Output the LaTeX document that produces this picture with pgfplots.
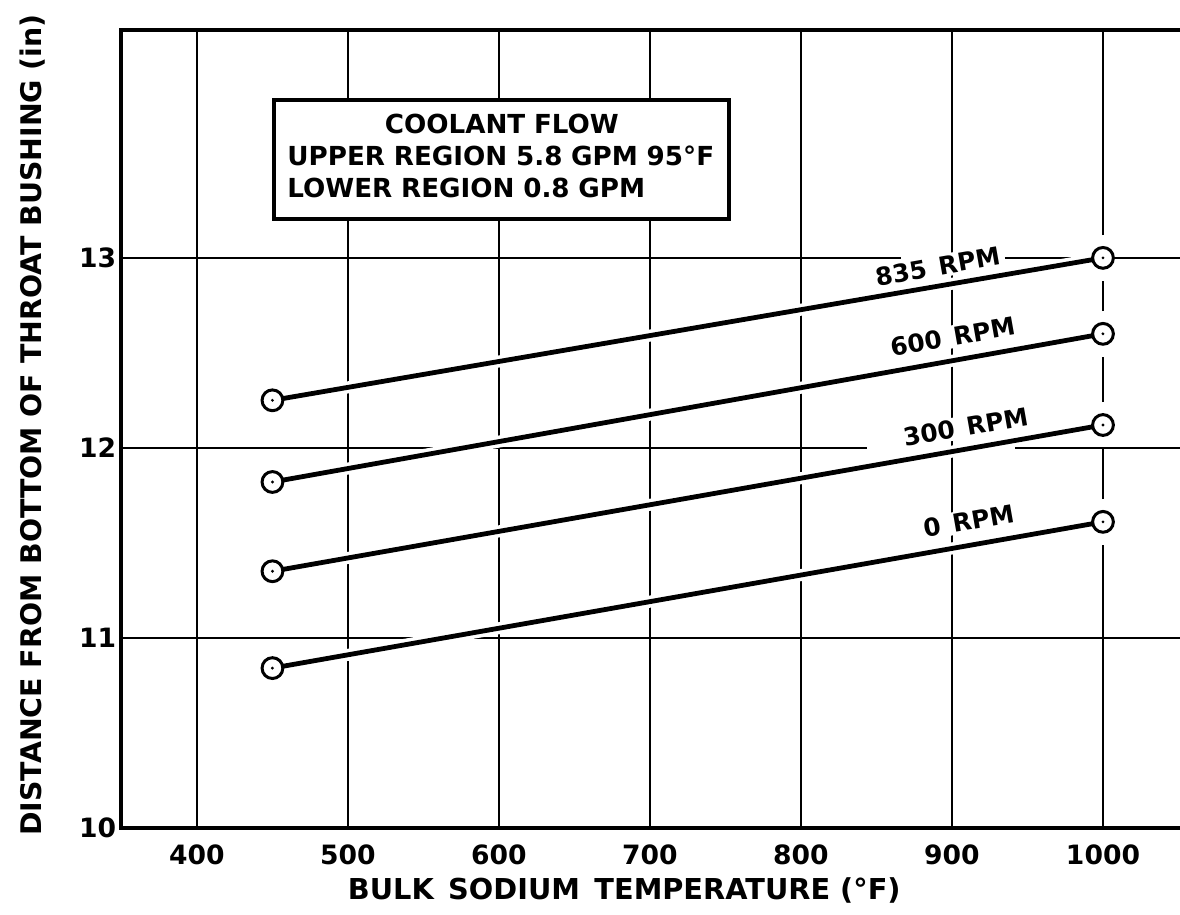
\documentclass[border=0pt]{standalone}
\usepackage{pgfplots}
\pgfplotsset{compat=1.18}
\usepackage{fontspec}
\setmainfont{DejaVu Sans}
\usetikzlibrary{calc}

\pgfdeclareplotmark{dotcirc}{%
  \pgfpathcircle{\pgfpointorigin}{\pgfplotmarksize}%
  \pgfusepathqfillstroke
  \begin{pgfscope}%
    \pgfsetfillcolor{black}%
    \pgfpathcircle{\pgfpointorigin}{0.8pt}%
    \pgfusepathqfill
  \end{pgfscope}}

\pgfplotsset{
  gridline/.style={black, line width=1.2pt, no marks, forget plot},
  halo/.style={draw=white, line width=6pt, no marks, forget plot},
  curve/.style={black, line width=2.4pt, mark=dotcirc, mark size=5.2pt, mark options={fill=white, line width=1.5pt}},
}
\tikzset{rpmlabel/.style={rotate=10, fill=white, inner sep=1pt, font=\bfseries\fontsize{12.4}{12.4}\selectfont}}

\begin{document}
\begin{tikzpicture}
\begin{axis}[
  scale only axis, width=529.5pt, height=399pt,
  xmin=350, xmax=1051, ymin=10, ymax=14.2,
  xtick={400,500,...,1000}, ytick={10,11,12,13},
  major tick length=0pt,
  axis line style={draw=none},
  /pgf/number format/assume math mode=true,
  /pgf/number format/1000 sep={},
  xticklabel style={font=\bfseries\fontsize{13.3}{13.3}\selectfont, anchor=north, inner sep=0pt, yshift=-8.5pt},
  yticklabel style={font=\bfseries\fontsize{13.3}{13.3}\selectfont, anchor=east, inner sep=0pt, xshift=-2.5pt},
  xlabel={BULK\hspace{0.5em}SODIUM\hspace{0.5em}TEMPERATURE (°F)},
  xlabel style={at={(rel axis cs:0.475,0)}, anchor=north, inner sep=0pt, yshift=-25pt, font=\bfseries\fontsize{14.4}{14.4}\selectfont},
  ylabel={DISTANCE FROM BOTTOM OF THROAT BUSHING (in)},
  ylabel style={at={($(rel axis cs:0,0.505)+(-40pt,0pt)$)}, anchor=base, inner sep=0pt, font=\bfseries\fontsize{14.2}{14.2}\selectfont},
  clip=false,
]
% grid lines (drawn as plots so that the curves' white halos break them)
\addplot[gridline] coordinates {(400,10) (400,14.2)};
\addplot[gridline] coordinates {(500,10) (500,14.2)};
\addplot[gridline] coordinates {(600,10) (600,14.2)};
\addplot[gridline] coordinates {(700,10) (700,14.2)};
\addplot[gridline] coordinates {(800,10) (800,14.2)};
\addplot[gridline] coordinates {(900,10) (900,14.2)};
\addplot[gridline] coordinates {(1000,13.12) (1000,14.2)};
\addplot[gridline] coordinates {(1000,12.72) (1000,12.88)};
\addplot[gridline] coordinates {(1000,12.24) (1000,12.48)};
\addplot[gridline] coordinates {(1000,11.73) (1000,12.00)};
\addplot[gridline] coordinates {(1000,10) (1000,11.49)};
\addplot[gridline] coordinates {(350,11) (1051,11)};
\addplot[gridline] coordinates {(350,12) (844,12)};
\addplot[gridline] coordinates {(942,12) (1051,12)};
\addplot[gridline] coordinates {(350,13) (866,13)};
\addplot[gridline] coordinates {(935,13) (1051,13)};
% white halos
\addplot[halo] coordinates {(450,12.25) (1000,13.00)};
\addplot[halo] coordinates {(450,11.82) (1000,12.60)};
\addplot[halo] coordinates {(450,11.35) (1000,12.12)};
\addplot[halo] coordinates {(450,10.84) (1000,11.61)};
% curves
\addplot[curve] coordinates {(450,12.25) (1000,13.00)};
\addplot[curve] coordinates {(450,11.82) (1000,12.60)};
\addplot[curve] coordinates {(450,11.35) (1000,12.12)};
\addplot[curve] coordinates {(450,10.84) (1000,11.61)};
% curve labels
\node[rpmlabel] at (axis cs:890.7,12.955) {835\hspace{0.5em}RPM};
\node[rpmlabel] at (axis cs:900.7,12.585) {600\hspace{0.5em}RPM};
\node[rpmlabel] at (axis cs:909.3,12.11) {300\hspace{0.5em}RPM};
\node[rpmlabel] at (axis cs:911.3,11.615) {0\hspace{0.5em}RPM};
% annotation box
\node[draw, line width=2pt, fill=white, anchor=north west, minimum width=227.5pt, minimum height=59.5pt,
      inner sep=0pt] (box) at (axis cs:450,13.84) {};
\node[anchor=center, inner xsep=0pt, inner ysep=0pt, text width=214.5pt, align=left,
      font=\bfseries\fontsize{13.1}{16}\selectfont] at ($(box.center)+(0pt,2pt)$)
  {\makebox[214.5pt]{COOLANT FLOW}\\UPPER REGION 5.8 GPM 95°F\\LOWER REGION 0.8 GPM};
% frame: top, left, bottom (no right side)
\draw[line width=2pt, line cap=rect] (rel axis cs:1.01,1) -- (rel axis cs:0,1) -- (rel axis cs:0,0) -- (rel axis cs:1.01,0);
\end{axis}
\pgfresetboundingbox
\path ($(current axis.south west)+(-60.75pt,-43.5pt)$) rectangle ($(current axis.north east)+(0pt,15pt)$);
\end{tikzpicture}
\end{document}
